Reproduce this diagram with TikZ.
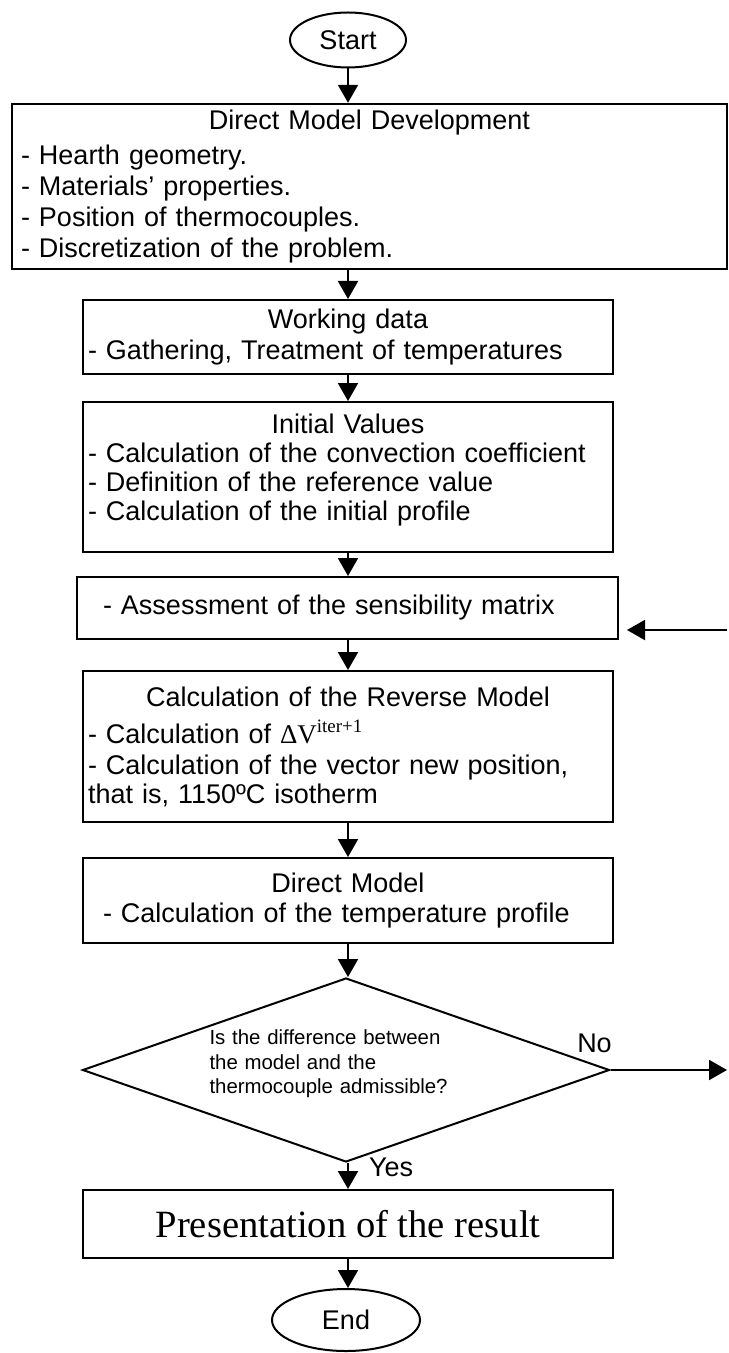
\documentclass[tikz,border=0pt]{standalone}
\usepackage{fontspec}
\setmainfont{Liberation Sans}
\newfontfamily\tnr{Liberation Serif}
\usetikzlibrary{shapes.geometric,arrows.meta}
\begin{document}
\begin{tikzpicture}[x=0.5pt,y=-0.5pt,
  box/.style={draw,line width=1pt,align=left,inner ysep=0pt,font=\fontsize{13.5}{15.5}\selectfont},
  term/.style={draw,ellipse,line width=1pt,inner sep=0pt,font=\fontsize{13.5}{15.5}\selectfont},
  arr/.style={line width=1pt,-{Triangle[length=9pt,width=10pt]}},
  lbl/.style={inner sep=0pt,font=\fontsize{13.5}{15.5}\selectfont}]
\useasboundingbox (0,0) rectangle (728,1353);

    %Inicio y desarrollo del modelo
    \node[term,minimum width=58pt,minimum height=27.5pt] (start) at (348,40) {Start};
    \node[box,line width=1.2pt,minimum width=357.5pt,minimum height=82.5pt,inner xsep=4.5pt,text width=348.5pt] (dev) at (369.5,186.5)
        {\centering Direct Model Development\par\vspace{2pt}\raggedright
         - Hearth geometry.\\
         - Materials’ properties.\\
         - Position of thermocouples.\\
         - Discretization of the problem.};
    \node[box,minimum width=265pt,minimum height=37pt,inner xsep=2.5pt,text width=260pt] (wdata) at (348,337)
        {\centering Working data\par\raggedright
         - Gathering, Treatment of temperatures};
    \node[box,minimum width=265pt,minimum height=75pt,inner xsep=2.5pt,text width=260pt,font=\fontsize{13.5}{14.5}\selectfont] (init) at (348,477)
        {\centering Initial Values\par\raggedright
         - Calculation of the convection coefficient\\
         - Definition of the reference value\\
         - Calculation of the initial profile\\[-4.5pt]\mbox{}};

    %Ciclo iterativo
    \node[box,minimum width=270.5pt,minimum height=31pt,inner xsep=13pt,text width=244.5pt] (sens) at (347.5,608)
        {- Assessment of the sensibility matrix};
    \node[box,minimum width=265pt,minimum height=75.5pt,inner xsep=2.5pt,text width=260pt,font=\fontsize{13.5}{14.5}\selectfont] (rev) at (348,746.5)
        {\centering Calculation of the Reverse Model\par\vspace{4pt}\raggedright
         - Calculation of {\tnr ΔV\textsuperscript{iter+1}}\\[1pt]
         - Calculation of the vector new position,\\
         that is, 1150ºC isotherm};
    \node[box,minimum width=265pt,minimum height=42.5pt,inner xsep=10pt,text width=245pt,font=\fontsize{13.5}{15}\selectfont] (dmod) at (348,900.5)
        {\centering Direct Model\par\raggedright
         - Calculation of the temperature profile};
    \node[draw,diamond,line width=1pt,aspect=2.86,minimum width=263.5pt,minimum height=92pt,inner sep=0pt,
          text width=136.5pt,align=left,font=\fontsize{10.2}{12.25}\selectfont] (check) at (346,1070)
        {Is the difference between\\ the model and the\\ thermocouple admissible?\\[-4pt]\mbox{}};

    %Resultado y fin
    \node[box,minimum width=265pt,minimum height=34pt,align=center,font=\tnr\fontsize{19.3}{22}\selectfont] (res) at (348,1224)
        {Presentation of the result};
    \node[term,minimum width=74pt,minimum height=31pt] (fin) at (346,1320) {End};

    \coordinate (back) at (727,630);
    \coordinate (noend) at (727,1070);

    %Flechas
    \draw[arr] (start.south) -- (start.south |- dev.north);
    \draw[arr] (wdata.north |- dev.south) -- (wdata.north);
    \draw[arr] (wdata.south) -- (init.north);
    \draw[arr] (init.south) -- (init.south |- sens.north);
    \draw[arr] (init.south |- sens.south) -- (rev.north);
    \draw[arr] (rev.south) -- (dmod.north);
    \draw[arr] (dmod.south) -- (dmod.south |- check.north);
    \draw[arr] (res.north |- check.south) -- (res.north) node[lbl,pos=0.15,right=10pt] (yes) {Yes};
    \draw[arr] (res.south) -- (res.south |- fin.north);
    \draw[arr] (back) -- (sens.east |- back) [shorten >=4pt];
    \draw[arr] (check.east) -- (noend) node[lbl,pos=0,above,xshift=-8pt,yshift=8pt] (no) {No};
\end{tikzpicture}
\end{document}
